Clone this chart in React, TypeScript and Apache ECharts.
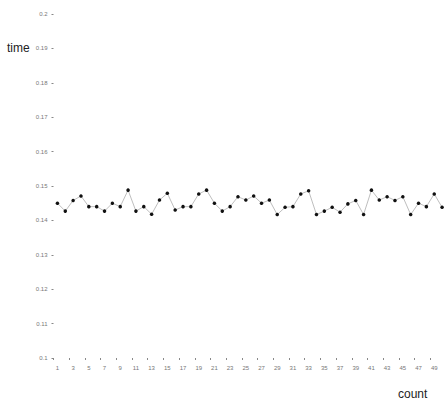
import React, { useEffect, useRef } from "react";
import * as echarts from "echarts";

const categories: string[] = Array.from({ length: 50 }, (_, i) => String(i + 1));

const timeValues: number[] = [
  0.145, 0.1427, 0.1458, 0.1471, 0.144, 0.144, 0.1427, 0.145, 0.144, 0.1488,
  0.1427, 0.144, 0.1418, 0.1459, 0.1479, 0.143, 0.144, 0.144, 0.1477, 0.1488,
  0.145, 0.1427, 0.144, 0.1469, 0.1459, 0.1471, 0.145, 0.1459, 0.1417, 0.1438,
  0.144, 0.1477, 0.1486, 0.1417, 0.1427, 0.1438, 0.1424, 0.1448, 0.1458, 0.1417,
  0.1488, 0.1459, 0.1469, 0.1458, 0.1469, 0.1417, 0.145, 0.144, 0.1477, 0.1438,
];

const yAxisName = "time";
const xAxisName = "count";

export default function App() {
  const ref = useRef<HTMLDivElement>(null);

  useEffect(() => {
    if (!ref.current) return;
    const chart = echarts.init(ref.current, undefined, { renderer: "svg" });
    chart.setOption({
      animation: false,
      backgroundColor: "#ffffff",
      grid: { left: 53.5, right: 0, top: 14, bottom: 43, containLabel: false },
      xAxis: {
        type: "category",
        data: categories,
        boundaryGap: true,
        axisLine: { show: false },
        axisTick: { show: true, length: 2, lineStyle: { color: "#888", width: 1 } },
        axisLabel: { interval: 1, fontSize: 6, color: "#777", margin: 7, fontFamily: "Liberation Sans, Arial, sans-serif" },
        splitLine: { show: false },
      },
      yAxis: {
        type: "value",
        min: 0.1,
        max: 0.2,
        interval: 0.01,
        axisLine: { show: false },
        axisTick: { show: true, length: 2, lineStyle: { color: "#888", width: 1 } },
        axisLabel: { fontSize: 6, color: "#777", margin: 6, fontFamily: "Liberation Sans, Arial, sans-serif" },
        splitLine: { show: false },
      },
      graphic: [
        {
          type: "text",
          left: 7,
          top: 42,
          style: {
            text: yAxisName,
            fontSize: 12,
            fill: "#222",
            fontFamily: "Liberation Sans, Arial, sans-serif",
          },
        },
        {
          type: "text",
          left: 398,
          top: 388,
          style: {
            text: xAxisName,
            fontSize: 12,
            fill: "#222",
            fontFamily: "Liberation Sans, Arial, sans-serif",
          },
        },
      ],
      series: [
        {
          type: "line",
          data: timeValues,
          symbol: "circle",
          symbolSize: 3.5,
          showSymbol: true,
          itemStyle: { color: "#111" },
          lineStyle: { color: "#444", width: 0.5, opacity: 0.7 },
        },
      ],
    });
    return () => chart.dispose();
  }, []);

  return (
    <div
      ref={ref}
      style={{ position: "fixed", left: 0, top: 0, width: 446, height: 401 }}
    />
  );
}
